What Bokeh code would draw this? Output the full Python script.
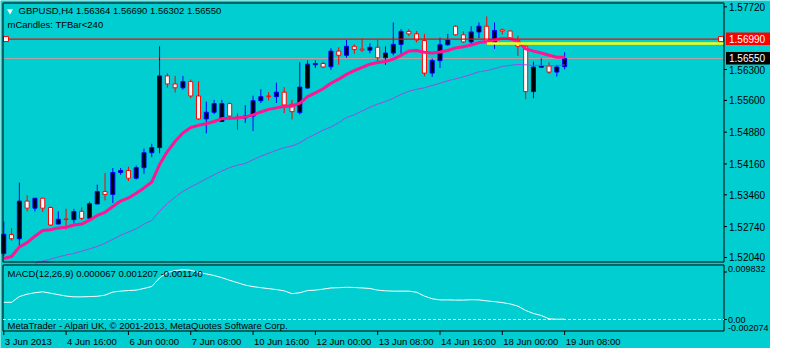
from bokeh.plotting import figure
from bokeh.models import Range1d, ColumnDataSource
from bokeh.core.properties import value
from bokeh.embed import file_html
from bokeh.resources import INLINE

# ---------------- data ----------------
opens = [1.52133, 1.52560, 1.52465, 1.53318, 1.53158, 1.53383, 1.53173, 1.52798, 1.52913, 1.52898,
         1.53086, 1.52928, 1.53253, 1.53534, 1.53469, 1.53967, 1.54011, 1.53837, 1.54076, 1.54414,
         1.54530, 1.56155, 1.55973, 1.55886, 1.56025, 1.55700, 1.55180, 1.55332, 1.55122, 1.55527,
         1.55223, 1.55202, 1.55245, 1.55592, 1.55700, 1.55685, 1.55786, 1.55511, 1.55323, 1.55880,
         1.56406, 1.56436, 1.56362, 1.56717, 1.56622, 1.56826, 1.56761, 1.56739, 1.56804, 1.56566,
         1.56674, 1.56869, 1.57164, 1.57107, 1.56956, 1.56219, 1.56501, 1.56860, 1.57281, 1.57086,
         1.56925, 1.57151, 1.57281, 1.56912, 1.57200, 1.57172, 1.56956, 1.56826, 1.55799, 1.56349,
         1.56378, 1.56241, 1.56364]
highs = [1.52854, 1.52711, 1.53736, 1.53454, 1.53383, 1.53383, 1.53194, 1.53086, 1.53145, 1.53145,
         1.53173, 1.53303, 1.53692, 1.53952, 1.54067, 1.54067, 1.54097, 1.54126, 1.54509, 1.54617,
         1.56826, 1.56219, 1.56155, 1.56155, 1.56074, 1.56031, 1.55570, 1.55613, 1.55613, 1.55555,
         1.55310, 1.55490, 1.55706, 1.55851, 1.55786, 1.56003, 1.55901, 1.55613, 1.56464, 1.56507,
         1.56507, 1.56479, 1.56782, 1.56804, 1.56969, 1.56869, 1.56999, 1.56897, 1.56969, 1.56826,
         1.57367, 1.57216, 1.57216, 1.57172, 1.57107, 1.56551, 1.57021, 1.57107, 1.57302, 1.57164,
         1.57281, 1.57367, 1.57504, 1.57367, 1.57229, 1.57185, 1.57070, 1.56839, 1.56479, 1.56551,
         1.56464, 1.56406, 1.56690]
lows = [1.52075, 1.52421, 1.52307, 1.53086, 1.53086, 1.53071, 1.52761, 1.52798, 1.52681, 1.52811,
        1.52885, 1.52928, 1.53253, 1.53331, 1.53274, 1.53915, 1.53773, 1.53807, 1.53937, 1.54314,
        1.54400, 1.55886, 1.55778, 1.55843, 1.55648, 1.55158, 1.54855, 1.55288, 1.55122, 1.55158,
        1.54933, 1.55085, 1.54905, 1.55540, 1.55598, 1.55540, 1.55310, 1.55171, 1.55280, 1.55864,
        1.56334, 1.56334, 1.56291, 1.56406, 1.56566, 1.56659, 1.56696, 1.56665, 1.56479, 1.56406,
        1.56622, 1.56659, 1.57055, 1.56912, 1.56146, 1.56133, 1.56334, 1.56839, 1.57070, 1.56897,
        1.56869, 1.57012, 1.56869, 1.56767, 1.57092, 1.56956, 1.56609, 1.55626, 1.55648, 1.56349,
        1.56204, 1.56139, 1.56302]
closes = [1.52566, 1.52465, 1.53318, 1.53158, 1.53383, 1.53158, 1.52776, 1.52906, 1.52898, 1.53080,
          1.52928, 1.53259, 1.53534, 1.53469, 1.53967, 1.54011, 1.53837, 1.54076, 1.54414, 1.54530,
          1.56155, 1.55973, 1.55886, 1.56025, 1.55700, 1.55180, 1.55332, 1.55527, 1.55527, 1.55245,
          1.55202, 1.55245, 1.55592, 1.55685, 1.55685, 1.55786, 1.55496, 1.55345, 1.55901, 1.56421,
          1.56436, 1.56356, 1.56717, 1.56622, 1.56826, 1.56752, 1.56739, 1.56804, 1.56566, 1.56674,
          1.56869, 1.57164, 1.57107, 1.56969, 1.56219, 1.56501, 1.56860, 1.56969, 1.57086, 1.56925,
          1.57151, 1.57281, 1.56912, 1.57185, 1.57172, 1.56999, 1.56826, 1.55799, 1.56356, 1.56378,
          1.56241, 1.56356, 1.56550]

ma_fast = [1.52019, 1.52062, 1.52278, 1.52378, 1.52523, 1.52653, 1.52668, 1.52711, 1.52725, 1.52776,
           1.52798, 1.52885, 1.52993, 1.53065, 1.53194, 1.53318, 1.53389, 1.53498, 1.53617, 1.53751,
           1.54147, 1.54440, 1.54673, 1.54862, 1.54987, 1.55035, 1.55072, 1.55122, 1.55187, 1.55193,
           1.55202, 1.55223, 1.55273, 1.55338, 1.55397, 1.55431, 1.55468, 1.55468, 1.55540, 1.55685,
           1.55771, 1.55864, 1.55988, 1.56081, 1.56189, 1.56276, 1.56349, 1.56421, 1.56458, 1.56479,
           1.56536, 1.56622, 1.56717, 1.56730, 1.56692, 1.56674, 1.56696, 1.56730, 1.56789, 1.56817,
           1.56854, 1.56912, 1.56934, 1.56969, 1.57005, 1.57005, 1.56934, 1.56767, 1.56717, 1.56674,
           1.56622, 1.56579, 1.56579]

ma_slow_first_bar = 4
ma_slow = [1.51906, 1.51960, 1.52003, 1.52053, 1.52097, 1.52133, 1.52183, 1.52235, 1.52291, 1.52365,
           1.52452, 1.52545, 1.52616, 1.52690, 1.52798, 1.52880, 1.53086, 1.53266, 1.53411, 1.53541,
           1.53638, 1.53725, 1.53822, 1.53915, 1.54002, 1.54078, 1.54132, 1.54169, 1.54255, 1.54336,
           1.54400, 1.54472, 1.54530, 1.54565, 1.54639, 1.54747, 1.54834, 1.54927, 1.54998, 1.55093,
           1.55215, 1.55273, 1.55360, 1.55446, 1.55518, 1.55576, 1.55648, 1.55734, 1.55808, 1.55851,
           1.55886, 1.55938, 1.55988, 1.56046, 1.56090, 1.56133, 1.56189, 1.56248, 1.56276, 1.56319,
           1.56371, 1.56393, 1.56414, 1.56406, 1.56393, 1.56393, 1.56384, 1.56384, 1.56406]

macd_line = [0.003102, 0.003102, 0.004138, 0.004569, 0.004828, 0.005000, 0.004741, 0.004483, 0.004224, 0.004086,
             0.004086, 0.004138, 0.004189, 0.004396, 0.004949, 0.005121, 0.005225, 0.005294, 0.005604, 0.005949,
             0.007502, 0.008486, 0.008831, 0.008969, 0.008883, 0.008503, 0.008227, 0.007934, 0.007537, 0.007071,
             0.006640, 0.006208, 0.005932, 0.005742, 0.005570, 0.005397, 0.005173, 0.004655, 0.004828, 0.005225,
             0.005294, 0.005483, 0.005691, 0.005742, 0.005811, 0.005777, 0.005691, 0.005604, 0.005294, 0.005173,
             0.005121, 0.005121, 0.005121, 0.004914, 0.004224, 0.003741, 0.003534, 0.003534, 0.003499, 0.003499,
             0.003568, 0.003534, 0.003361, 0.003223, 0.003050, 0.002809, 0.002412, 0.001635, 0.001083, 0.000721,
             0.000117, 0.000048, 0.000067]

price_ticks = [1.57720, 1.56300, 1.55600, 1.54880, 1.54160, 1.53460, 1.52740, 1.52040]
time_tick_bars = [0, 8, 16, 24, 32, 40, 48, 56, 64, 72]
time_tick_labels = ["3 Jun 2013", "4 Jun 16:00", "6 Jun 00:00", "7 Jun 08:00", "10 Jun 16:00",
                    "12 Jun 00:00", "13 Jun 08:00", "14 Jun 16:00", "18 Jun 00:00", "19 Jun 08:00"]
red_level = 1.56990
bid_level = 1.56550
yellow_level = 1.56890
yellow_from_bar = 62
macd_top_value = 0.009832
macd_bottom_value = -0.002074
macd_labels = ["0.009832", "0.00", "-0.002074"]

title_text = "GBPUSD,H4  1.56364 1.56690 1.56302 1.56550"
sub_text = "mCandles: TFBar<240"
macd_text = "MACD(12,26,9) 0.000067 0.001207 -0.001140"
copy_text = "MetaTrader - Alpari UK, \u00a9 2001-2013, MetaQuotes Software Corp."

# ---------------- layout (pixels) ----------------
BG = "#00CED1"
FONT = "Liberation Sans"
W, H = 770, 348
PL, PR = 2.5, 723.5          # chart frame left / right
MT, MB = 2.5, 261.5          # price panel top / bottom
DT, DB = 264.5, 330.5        # MACD panel top / bottom
X0, X1 = -0.1, 92.46         # bar range spanned by the chart frame
Y0, Y1 = 1.51938, 1.57807    # price range of the price panel
M0, M1 = macd_bottom_value, macd_top_value

ppb = (PR - PL) / (X1 - X0)
pp = (Y1 - Y0) / (MB - MT)
mp = (M1 - M0) / (DB - DT)


def bx(px):
    return px / ppb


p = figure(width=W, height=H, output_backend="svg", toolbar_location=None,
           x_range=Range1d(X0 - PL / ppb, X0 + (W - PL) / ppb),
           y_range=Range1d(Y0 - (H - MB) * pp, Y1 + MT * pp),
           x_axis_location=None, y_axis_location=None, min_border=0,
           background_fill_color=BG, border_fill_color=BG, outline_line_color=None)
p.extra_y_ranges = {"macd": Range1d(M0 - (H - DB) * mp, M1 + DT * mp)}
p.grid.visible = False

# ---- candles ----
bars = list(range(len(opens)))
up = [c >= o for o, c in zip(opens, closes)]
src = ColumnDataSource(dict(
    x=bars, h=highs, l=lows,
    top=[max(o, c) for o, c in zip(opens, closes)],
    bottom=[min(o, c) for o, c in zip(opens, closes)],
    line=["#0000FF" if u else "#FF0000" for u in up],
    fill=["#000000" if u else "#FFFFFF" for u in up],
))

p.segment(x0=X0, x1=X1, y0=bid_level, y1=bid_level, line_color="#B4A4A4", line_width=1)
p.segment(x0="x", y0="h", x1="x", y1="l", line_color="line", line_width=1, source=src)
p.vbar(x="x", width=0.52, top="top", bottom="bottom", fill_color="fill",
       line_color="line", line_width=1, source=src)

# ---- moving averages ----
p.line([ma_slow_first_bar + i for i in range(len(ma_slow))], ma_slow, line_color="#9050E0", line_width=1)
p.line(bars, ma_fast, line_color="#FF1493", line_width=3)

# ---- horizontal objects ----
p.segment(x0=yellow_from_bar, x1=X1, y0=yellow_level, y1=yellow_level, line_color="#FFFF00", line_width=2.5)
p.segment(x0=X0, x1=X1, y0=red_level, y1=red_level, line_color="#FF0000", line_width=1.3)
p.scatter([X0 + bx(3), X1 - bx(3)], [red_level, red_level], marker="square", size=5,
          fill_color="white", line_color="#FF0000", line_width=1)

# ---- panel borders ----
p.quad(left=X0, right=X1, bottom=Y0, top=Y1, fill_color=None, line_color="black", line_width=1)
p.quad(left=X0, right=X1, bottom=M0, top=M1, fill_color=None, line_color="black", line_width=1,
       y_range_name="macd")

# ---- price scale ----
p.segment(x0=[X1] * len(price_ticks), x1=[X1 + bx(3)] * len(price_ticks), y0=price_ticks, y1=price_ticks,
          line_color="black", line_width=1)
p.text(x=[X1 + bx(5)] * len(price_ticks), y=price_ticks, text=["%.5f" % t for t in price_ticks],
       text_font=value(FONT), text_font_size=value("10px"), text_color="black",
       text_align="left", text_baseline="middle")

for lvl, bg in ((red_level, "#FF0000"), (bid_level, "#000000")):
    p.quad(left=X1 + bx(2), right=X1 + bx(46.5), bottom=lvl - 6 * pp, top=lvl + 6.5 * pp,
           fill_color=bg, line_color=None)
    p.text(x=[X1 + bx(5)], y=[lvl], text=["%.5f" % lvl], text_font=value(FONT),
           text_font_size=value("10px"), text_color="white", text_align="left", text_baseline="middle")

# ---- header texts ----
p.scatter([X0 + bx(7)], [Y1 - 8 * pp], marker="inverted_triangle", size=6,
          fill_color="white", line_color=None)
p.text(x=[X0 + bx(15.5)], y=[Y1 - 7.5 * pp], text=[title_text], text_font=value(FONT),
       text_font_size=value("9.5px"), text_color="black", text_align="left", text_baseline="middle")
p.text(x=[X0 + bx(4.5)], y=[Y1 - 21 * pp], text=[sub_text], text_font=value(FONT),
       text_font_size=value("9.5px"), text_color="black", text_align="left", text_baseline="middle")

# ---- MACD panel ----
p.segment(x0=X0, x1=X1, y0=0, y1=0, line_color="white", line_width=1, line_dash="3 2",
          y_range_name="macd")
p.line(bars, macd_line, line_color="white", line_width=1, y_range_name="macd")

p.segment(x0=[X1, X1], x1=[X1 + bx(3)] * 2, y0=[M1 - 7 * mp, 0], y1=[M1 - 7 * mp, 0],
          line_color="black", line_width=1, y_range_name="macd")
p.text(x=[X1 + bx(4)] * 3, y=[M1 - 1 * mp, 0, M0], text=macd_labels, text_font=value(FONT),
       text_font_size=value("9px"), text_color="black", text_align="left",
       text_baseline=["top", "middle", "bottom"], y_range_name="macd")

p.text(x=[X0 + bx(4.5)], y=[M1 - 8.5 * mp], text=[macd_text], text_font=value(FONT),
       text_font_size=value("9.5px"), text_color="black", text_align="left", text_baseline="middle",
       y_range_name="macd")
p.text(x=[X0 + bx(4.5)], y=[M0 + 6 * mp], text=[copy_text], text_font=value(FONT),
       text_font_size=value("9.5px"), text_color="black", text_align="left", text_baseline="middle",
       y_range_name="macd")

# ---- time scale ----
p.segment(x0=time_tick_bars, x1=time_tick_bars, y0=[M0] * len(time_tick_bars),
          y1=[M0 - 4 * mp] * len(time_tick_bars), line_color="black", line_width=1, y_range_name="macd")
p.text(x=[b + bx(1) for b in time_tick_bars], y=[M0 - 10 * mp] * len(time_tick_bars),
       text=time_tick_labels, text_font=value(FONT), text_font_size=value("9.5px"),
       text_color="black", text_align="left", text_baseline="middle", y_range_name="macd")

open("out.html", "w").write(file_html(p, INLINE))
